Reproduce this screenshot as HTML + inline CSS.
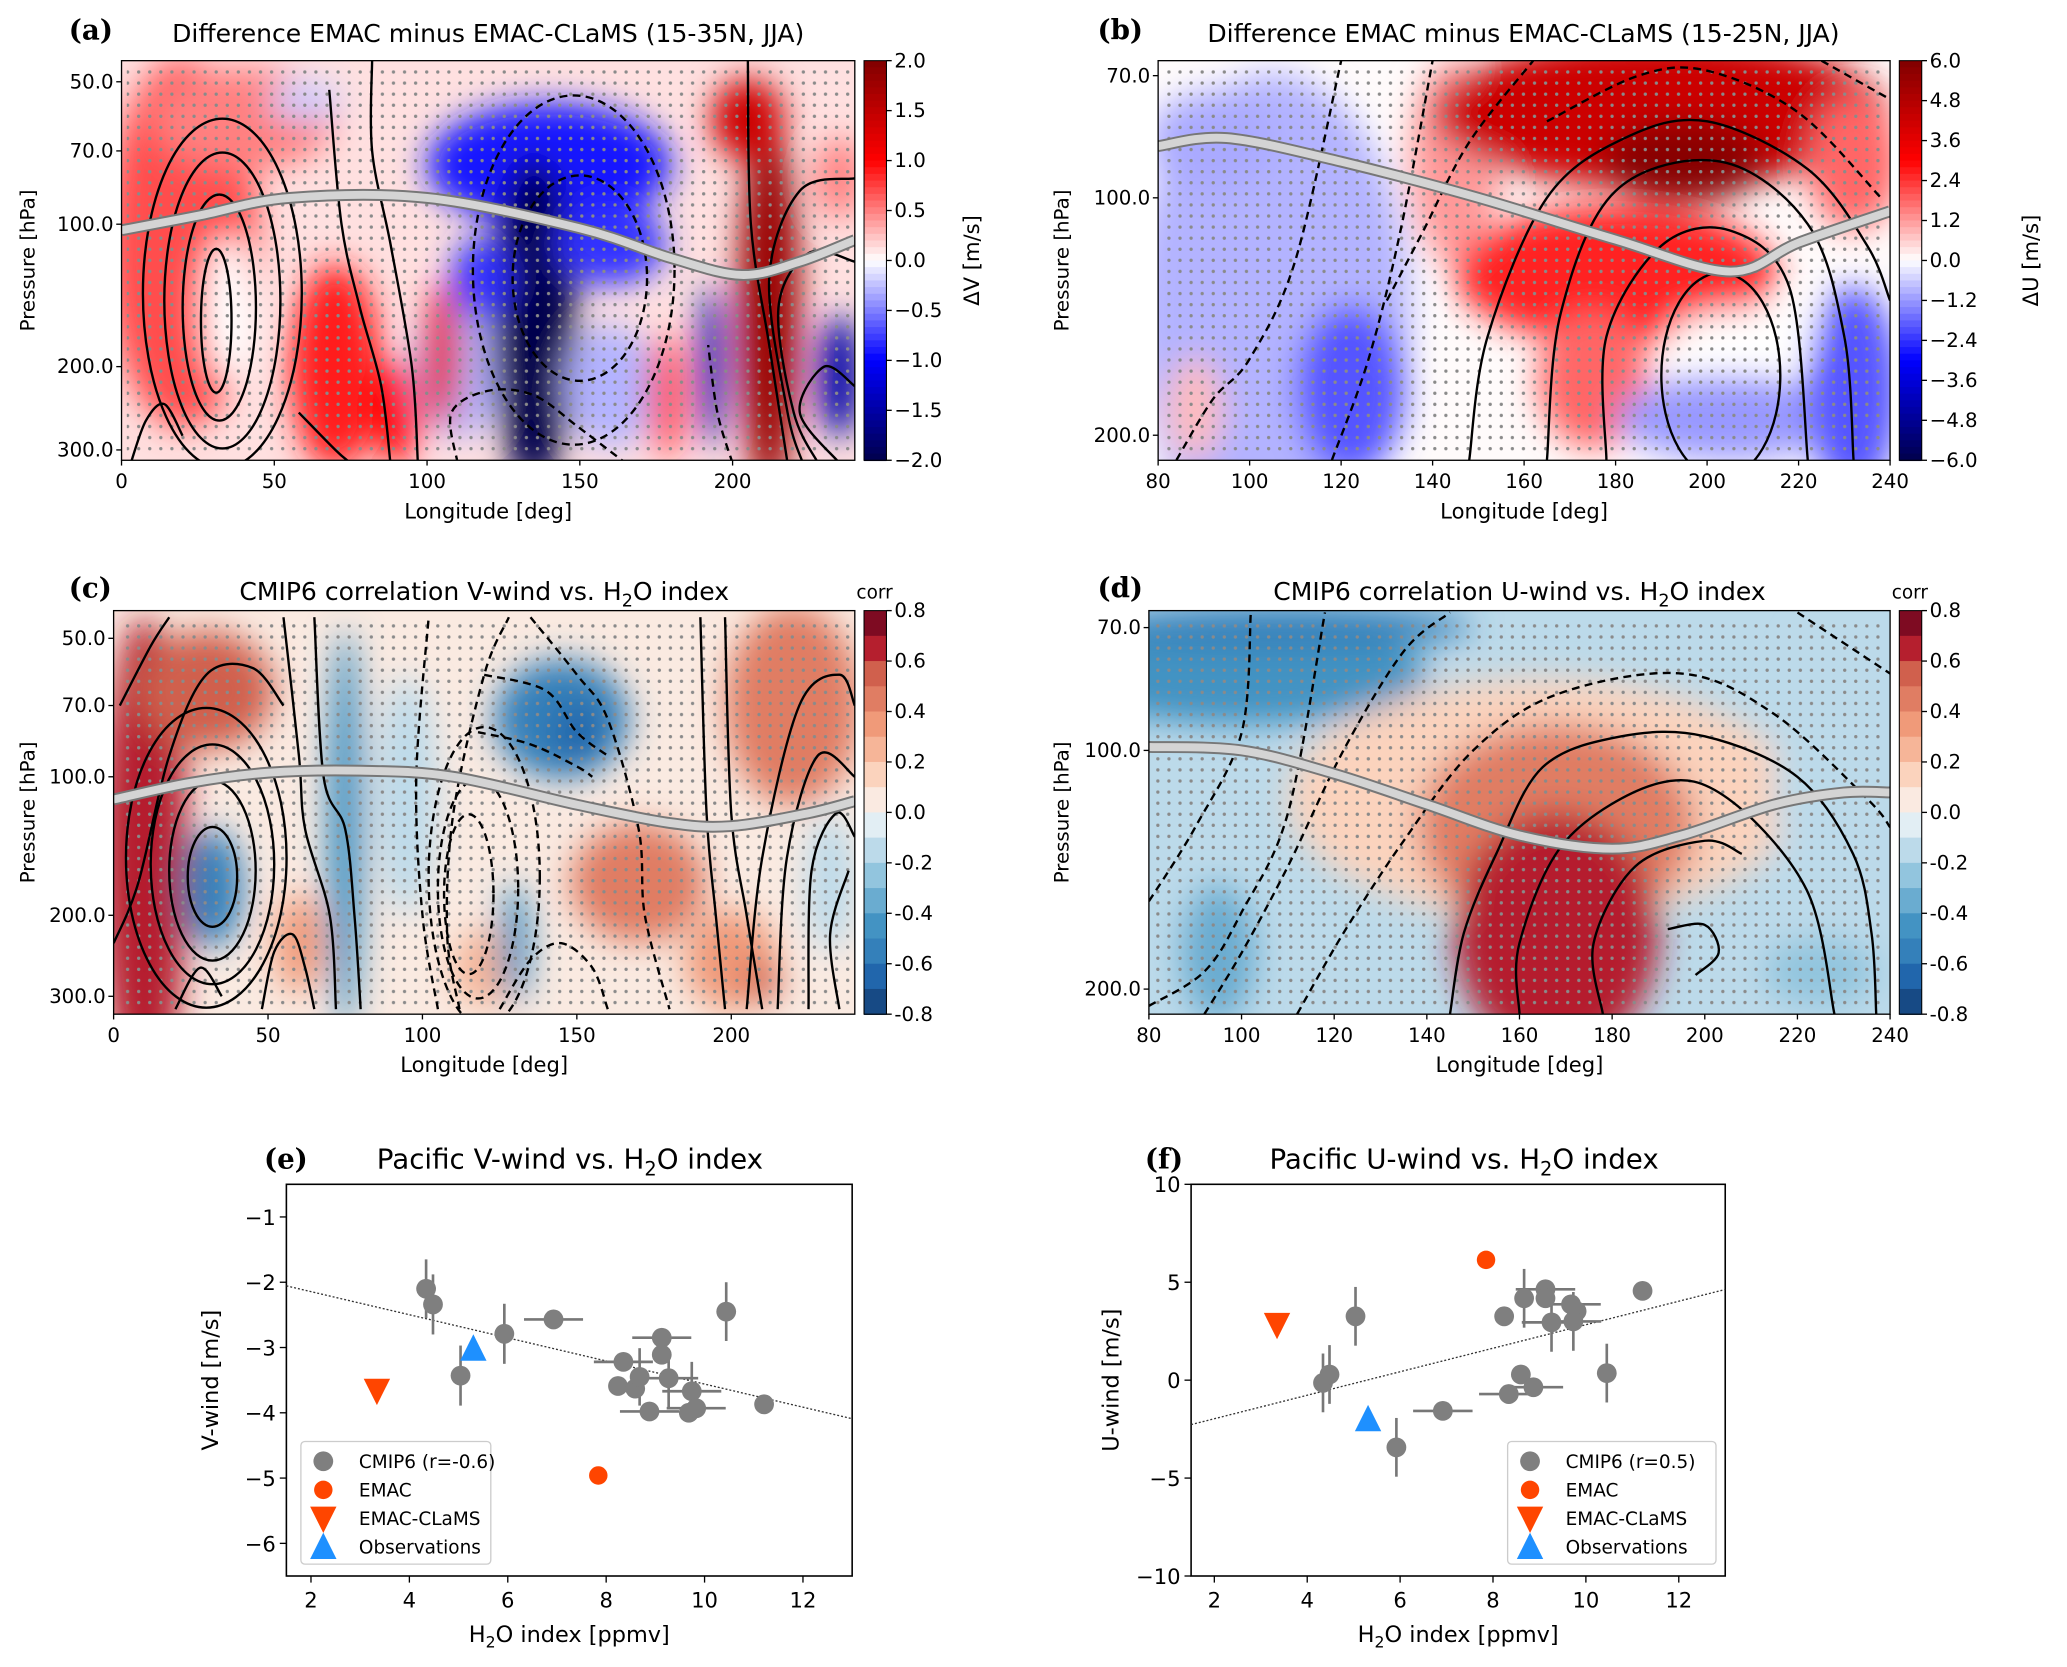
<!DOCTYPE html>
<html><head><meta charset="utf-8"><style>
html,body{margin:0;padding:0;background:#fff}
svg{display:block}
text{font-family:"DejaVu Sans","Liberation Sans",sans-serif;fill:#000}
.lab{font-family:"DejaVu Serif","Liberation Serif",serif;font-weight:bold}
</style></head><body>
<svg id="fig" xmlns="http://www.w3.org/2000/svg" width="2067" height="1667" viewBox="0 0 1567 1264">
<defs>
<pattern id="stip" x="0" y="0" width="8.4" height="8.4" patternUnits="userSpaceOnUse"><circle cx="4.2" cy="4.2" r="1.25" fill="#8a8a8a"/></pattern>
<filter id="blur" x="-50%" y="-50%" width="200%" height="200%"><feGaussianBlur stdDeviation="12"/></filter>
</defs>
</svg>
<script>
// ---------- scatter data (panel e / f) ----------
const cmipH2O  = [4.34,4.48,5.04,5.93,6.93,8.35,8.24,8.59,8.68,8.88,9.13,9.13,9.27,9.74,9.68,9.83,10.44,11.21];
const cmipV    = [-2.10,-2.34,-3.43,-2.79,-2.57,-3.22,-3.59,-3.63,-3.45,-3.98,-2.85,-3.11,-3.47,-3.67,-4.00,-3.93,-2.45,-3.87];
const cmipVerrY= [0.45,0.46,0.46,0.46,0,0,0,0,0.44,0,0,0,0.45,0.45,0,0,0.45,0];
const cmipVerrX= [0,0,0,0,0.6,0.6,0,0,0,0.6,0.6,0,0.6,0.6,0,0.6,0,0];
const cmipU    = [-0.14,0.29,3.26,-3.43,-1.57,3.26,-0.71,0.29,4.18,-0.36,4.64,4.18,2.95,3.87,3.52,3.0,0.36,4.56];
const cmipH2Of = [4.34,4.48,5.04,5.92,6.92,8.24,8.34,8.60,8.67,8.87,9.13,9.13,9.26,9.68,9.80,9.73,10.45,11.22];
const cmipUerrY= [1.5,1.5,1.5,1.5,0,0,0,0,1.5,0,0,0,1.5,0,0,1.5,1.5,0];
const cmipUerrX= [0,0,0,0,0.64,0,0.64,0,0,0.64,0.64,0,0.64,0.64,0,0.6,0,0];
const emacE = [7.84,-4.96], clamsE = [3.34,-3.66], obsE = [5.30,-3.02];
const emacF = [7.85,6.14], clamsF = [3.35,2.83], obsF = [5.31,-2.0];
const regE = [-1.79,-0.177], regF = [-3.17,0.60];
const ticksX = [2,4,6,8,10,12];
const ticksVE = [-1,-2,-3,-4,-5,-6];
const ticksUF = [10,5,0,-5,-10];
// ---------- field blobs [lon, p, dLon, dLnP, value] ----------
const blobsA=[[20,110,25,0.9,0.7],[40,60,30,0.25,0.5],[35,150,8,0.35,0.0],[70,200,15,0.5,0.9],[90,250,8,0.25,1.0],[60,55,12,0.1,-0.2],[110,200,15,0.35,-0.3],[105,190,6,0.35,1.2],[140,75,40,0.3,-0.9],[135,160,14,0.8,-2.0],[137,150,8,0.5,-2.0],[118,130,10,0.2,-0.8],[160,110,18,0.2,-0.8],[160,220,15,0.3,-0.3],[178,230,5,0.3,0.9],[193,200,4,0.4,-1.5],[212,150,10,0.9,1.8],[205,60,12,0.2,1.4],[235,210,7,0.3,-1.5],[235,80,8,0.2,0.5]];
const blobsB=[[105,140,30,0.7,-0.9],[122,175,12,0.25,-2.0],[92,85,14,0.15,-1.0],[88,185,6,0.15,0.8],[145,90,10,0.3,1.2],[190,78,50,0.22,4.2],[195,90,18,0.12,5.8],[180,125,35,0.2,2.6],[175,170,12,0.2,1.8],[210,150,18,0.08,0.0],[205,190,25,0.12,-1.2],[232,175,10,0.3,-2.0],[232,90,10,0.2,1.8]];
const blobsC=[[10,150,14,1.2,0.65],[30,65,22,0.3,0.5],[32,175,10,0.3,-0.6],[60,230,8,0.25,0.3],[75,130,6,1.0,-0.5],[95,110,10,0.6,-0.15],[145,75,22,0.3,-0.6],[150,80,8,0.15,-0.7],[120,260,10,0.2,0.2],[130,230,5,0.3,-0.5],[170,170,22,0.3,0.4],[200,250,15,0.25,0.35],[210,280,6,0.1,0.6],[220,70,22,0.5,0.4],[232,170,8,0.35,-0.2]];
const blobsD=[[100,80,40,0.15,-0.5],[110,70,40,0.06,-0.6],[95,180,8,0.2,-0.35],[165,115,55,0.35,0.15],[168,125,30,0.3,0.4],[168,170,22,0.35,0.68],[230,110,15,0.5,-0.15],[225,190,12,0.1,-0.3]];
// ---------- contours [pts, dashed] and ellipses [lon,p,dLon,dLnP,dashed] ----------
const contA=[[[[68,52],[72,100],[78,150],[85,220],[88,320]],0],[[[82,45],[82,70],[88,110],[95,200],[97,320]],0],[[[58,250],[70,300],[75,320]],0],[[[110,320],[108,250],[120,225],[135,230],[150,270],[165,320]],1],[[[200,320],[195,250],[192,180]],1],[[[205,45],[206,100],[212,180],[218,320]],0],[[[240,120],[225,115],[215,150],[220,250],[228,320]],0],[[[240,80],[222,85],[212,130],[218,250],[223,320]],0],[[[240,220],[230,200],[222,250],[235,320]],0],[[[3,320],[8,260],[14,240],[20,280]],0]];
const ellA=[[33,140,26,0.85,0],[33,145,19,0.72,0],[32,150,12,0.55,0],[31,160,5,0.35,0],[148,125,33,0.85,1],[150,130,22,0.5,1]];
const contB=[[[[84,215],[92,180],[100,160],[110,120],[120,67]],1],[[[118,215],[126,160],[133,110],[140,67]],1],[[[130,135],[138,110],[148,85],[162,67]],1],[[[165,80],[185,70],[200,69],[220,78],[238,100]],1],[[[225,67],[240,75]],1],[[[148,215],[152,150],[165,100],[182,84],[200,80],[222,92],[235,115],[240,135]],0],[[[165,215],[168,140],[180,98],[203,90],[222,108],[230,150],[232,215]],0],[[[178,215],[178,150],[190,115],[205,110],[218,130],[222,215]],0]];
const ellB=[[203,168,13,0.3,0]];
const contC=[[[[65,45],[68,100],[75,130],[78,200],[80,320]],0],[[[55,45],[60,90],[62,130],[70,200],[72,320]],0],[[[48,320],[52,240],[58,220],[62,260],[65,320]],0],[[[20,320],[28,260],[35,300]],0],[[[2,70],[12,52],[18,45]],0],[[[0,230],[8,170],[18,90],[30,60],[45,58],[55,70]],0],[[[105,320],[100,200],[98,100],[102,45]],1],[[[112,320],[108,220],[110,120],[120,60],[128,45]],1],[[[135,45],[150,60],[160,75],[170,130],[172,200],[180,320]],1],[[[120,60],[140,65],[150,80],[160,90]],1],[[[118,80],[135,85],[150,95],[155,100]],1],[[[125,320],[135,250],[145,230],[155,260],[160,320]],1],[[[190,45],[192,120],[195,200],[198,320]],0],[[[198,45],[200,120],[205,200],[210,320]],0],[[[205,320],[210,150],[222,70],[235,60],[240,70]],0],[[[215,320],[218,150],[228,90],[240,100]],0],[[[225,320],[226,160],[234,120],[240,135]],0],[[[235,320],[232,220],[238,160]],0]];
const ellC=[[32,165,8,0.25,0],[32,160,14,0.45,0],[32,155,20,0.6,0],[30,150,26,0.75,0],[115,180,8,0.4,1],[118,175,13,0.55,1],[120,165,18,0.75,1]];
const contD=[[[[80,155],[90,125],[100,95],[102,67]],1],[[[80,210],[92,190],[100,160],[110,120],[118,67]],1],[[[92,215],[100,180],[110,140],[122,100],[135,75],[145,67]],1],[[[112,215],[122,170],[135,130],[150,100],[168,85],[195,80],[215,90],[235,115],[240,125]],1],[[[220,67],[240,80]],1],[[[145,215],[148,170],[155,135],[165,105],[182,96],[200,96],[220,108],[232,135],[236,170],[237,215]],0],[[[160,215],[160,175],[170,130],[190,110],[205,115],[222,150],[228,215]],0],[[[178,215],[176,175],[185,140],[200,130],[208,135]],0],[[[192,168],[200,166],[203,180],[198,192]],0]];
const ellD=[];
// tropopause [lon,p]
const tropA=[[0,103],[25,96],[55,88],[100,88],[150,102],[180,118],[203,128],[222,120],[240,108]];
const tropB=[[80,86],[95,84],[120,90],[150,100],[180,113],[205,124],[220,114],[240,104]];
const tropC=[[0,112],[25,103],[50,98],[80,97],[110,100],[150,115],[180,126],[200,128],[225,120],[240,113]];
const tropD=[[80,99],[100,100],[120,107],[140,117],[160,128],[180,133],[195,128],[215,117],[230,113],[240,113]];

const NS='http://www.w3.org/2000/svg';
const svg=document.getElementById('fig');
function mk(tag,attrs,parent){const e=document.createElementNS(NS,tag);for(const k in attrs)e.setAttribute(k,attrs[k]);(parent||svg).appendChild(e);return e;}
function hex2rgb(h){return [parseInt(h.substr(1,2),16),parseInt(h.substr(3,2),16),parseInt(h.substr(5,2),16)];}
function interp(stops,v){if(v<=stops[0][0])return stops[0][1];if(v>=stops[stops.length-1][0])return stops[stops.length-1][1];
 for(let i=0;i<stops.length-1;i++){const a=stops[i],b=stops[i+1];if(v>=a[0]&&v<=b[0]){const t=(v-a[0])/(b[0]-a[0]);const ca=hex2rgb(a[1]),cb=hex2rgb(b[1]);return 'rgb('+ca.map((c,j)=>Math.round(c+(cb[j]-c)*t)).join(',')+')';}}}
const SEIS=[[-1,'#00004c'],[-0.5,'#0000ff'],[0,'#ffffff'],[0.5,'#ff0000'],[1,'#800000']];
const RDBU=['#174a85','#2166ac','#3480ba','#4393c3','#6aacd0','#92c5de','#bcdaea','#e2eef4','#faeae1','#fbd3bd','#f6b598','#f09a79','#e07d63','#d0604d','#b51f2e','#7e0b22'];
function rdbu(v){let i=Math.floor((v+0.8)/0.1);i=Math.max(0,Math.min(15,i));return RDBU[i];}
function sub(t,parent,x,y,size,anchor){
 const e=mk('text',{x:x,y:y,'font-size':size,'text-anchor':anchor||'middle'},parent);
 const parts=t.split('H2O');
 e.appendChild(document.createTextNode(parts[0]+'H'));
 const s=mk('tspan',{'font-size':size*0.7,dy:size*0.25},e);s.textContent='2';
 const r=mk('tspan',{dy:-size*0.25},e);r.textContent='O'+(parts[1]||'');
 return e;}
function smooth(pts){let d='M'+pts[0][0].toFixed(1)+','+pts[0][1].toFixed(1);
 for(let i=0;i<pts.length-1;i++){const p0=pts[i-1]||pts[i],p1=pts[i],p2=pts[i+1],p3=pts[i+2]||p2;
 d+=' C'+(p1[0]+(p2[0]-p0[0])/6).toFixed(1)+','+(p1[1]+(p2[1]-p0[1])/6).toFixed(1)+' '+(p2[0]-(p3[0]-p1[0])/6).toFixed(1)+','+(p2[1]-(p3[1]-p1[1])/6).toFixed(1)+' '+p2[0].toFixed(1)+','+p2[1].toFixed(1);}
 return d;}

const panels=[
 {id:'a',x0:92,x1:648,y0:46,y1:349,lon0:0,lon1:240,yRef:170,k:155.8,blobs:blobsA,base:0.12,cont:contA,ell:ellA,trop:tropA,yt:[50,70,100,200,300],xt:[0,50,100,150,200],cmap:'seis',vmax:2,
  title:'Difference EMAC minus EMAC-CLaMS (15-35N, JJA)',tx:370,ty:32,lx:52,ly:22,cbx:655,cbt:[2.0,1.5,1.0,0.5,0.0,-0.5,-1.0,-1.5,-2.0],cbl:'ΔV [m/s]',cblx:742,ylx:22},
 {id:'b',x0:878,x1:1433,y0:46,y1:349,lon0:80,lon1:240,yRef:150,k:259.7,blobs:blobsB,base:0.05,cont:contB,ell:ellB,trop:tropB,yt:[70,100,200],xt:[80,100,120,140,160,180,200,220,240],cmap:'seis',vmax:6,
  title:'Difference EMAC minus EMAC-CLaMS (15-25N, JJA)',tx:1155,ty:32,lx:832,ly:22,cbx:1440,cbt:[6.0,4.8,3.6,2.4,1.2,0.0,-1.2,-2.4,-3.6,-4.8,-6.0],cbl:'ΔU [m/s]',cblx:1545,ylx:806},
 {id:'c',x0:86,x1:648,y0:463,y1:769,lon0:0,lon1:240,yRef:589,k:151.5,blobs:blobsC,base:0.02,cont:contC,ell:ellC,trop:tropC,yt:[50,70,100,200,300],xt:[0,50,100,150,200],cmap:'rdbu',vmax:0.8,
  title:'CMIP6 correlation V-wind vs. H2O index',tx:367,ty:455,lx:52,ly:445,cbx:655,cbt:[0.8,0.6,0.4,0.2,0.0,-0.2,-0.4,-0.6,-0.8],cbl:'corr',ylx:22},
 {id:'d',x0:871,x1:1433,y0:463,y1:769,lon0:80,lon1:240,yRef:569,k:261.1,blobs:blobsD,base:-0.12,cont:contD,ell:ellD,trop:tropD,yt:[70,100,200],xt:[80,100,120,140,160,180,200,220,240],cmap:'rdbu',vmax:0.8,
  title:'CMIP6 correlation U-wind vs. H2O index',tx:1152,ty:455,lx:832,ly:445,cbx:1440,cbt:[0.8,0.6,0.4,0.2,0.0,-0.2,-0.4,-0.6,-0.8],cbl:'corr',ylx:806}
];

panels.forEach(P=>{
 const X=lon=>P.x0+(lon-P.lon0)/(P.lon1-P.lon0)*(P.x1-P.x0);
 const Y=p=>P.yRef+P.k*Math.log(p/100);
 const col=v=>P.cmap==='seis'?interp(SEIS,v/P.vmax):rdbu(v);
 const g=mk('g',{});
 
 
 const cp=mk('clipPath',{id:'clip'+P.id},g);
 mk('rect',{x:P.x0,y:P.y0,width:P.x1-P.x0,height:P.y1-P.y0},cp);
 const field=mk('g',{'clip-path':'url(#clip'+P.id+')'},g);
 
 
 const base=mk('rect',{x:P.x0,y:P.y0,width:P.x1-P.x0,height:P.y1-P.y0,fill:col(P.base)},field);
 
 
 const bg=mk('g',{filter:'url(#blur)'},field);
 P.blobs.forEach(b=>{
  const pxw=(P.x1-P.x0)/(P.lon1-P.lon0);
  const e=mk('ellipse',{cx:X(b[0]),cy:Y(b[1]),rx:b[2]*pxw,ry:b[3]*P.k,fill:col(b[4])},bg);
  
  
 });
 const st=mk('rect',{x:P.x0+4,y:P.y0+6,width:P.x1-P.x0-8,height:P.y1-P.y0-10,fill:'url(#stip)'},field);
 
 
 P.cont.forEach(c=>{
  const pa=mk('path',{d:smooth(c[0].map(q=>[X(q[0]),Y(q[1])])),fill:'none',stroke:'#000','stroke-width':1.8,'stroke-dasharray':c[1]?'6,4':'none'},field);
  
  
 });
 P.ell.forEach(c=>{
  const pxw=(P.x1-P.x0)/(P.lon1-P.lon0);
  const e=mk('ellipse',{cx:X(c[0]),cy:Y(c[1]),rx:c[2]*pxw,ry:c[3]*P.k,fill:'none',stroke:'#000','stroke-width':1.8,'stroke-dasharray':c[4]?'6,4':'none'},field);
  
  
 });
 const td=smooth(P.trop.map(q=>[X(q[0]),Y(q[1])]));
 const t1=mk('path',{d:td,fill:'none',stroke:'#777','stroke-width':9},field);
 
 
 const t2=mk('path',{d:td,fill:'none',stroke:'#d4d4d4','stroke-width':6},field);
 
 
 const fr=mk('rect',{x:P.x0,y:P.y0,width:P.x1-P.x0,height:P.y1-P.y0,fill:'none',stroke:'#000','stroke-width':1},g);
 
 
 P.yt.forEach(p=>{
  mk('line',{x1:P.x0-4,x2:P.x0,y1:Y(p),y2:Y(p),stroke:'#000'},g);
  const t=mk('text',{x:P.x0-6,y:Y(p)+5,'font-size':15,'text-anchor':'end'},g);
  t.textContent=p.toFixed(1);
  
  
 });
 P.xt.forEach(l=>{
  mk('line',{x1:X(l),x2:X(l),y1:P.y1,y2:P.y1+4,stroke:'#000'},g);
  const t=mk('text',{x:X(l),y:P.y1+21,'font-size':15,'text-anchor':'middle'},g);
  t.textContent=l;
  
  
 });
 const xl=mk('text',{x:(P.x0+P.x1)/2,y:P.y1+44,'font-size':16,'text-anchor':'middle'},g);
 xl.textContent='Longitude [deg]';
 
 
 const yl=mk('text',{x:0,y:0,'font-size':15,'text-anchor':'middle',transform:'translate('+(P.ylx+4)+','+((P.y0+P.y1)/2)+') rotate(-90)'},g);
 yl.textContent='Pressure [hPa]';
 
 
 const lab=mk('text',{x:P.lx,y:P.ly+8,'font-size':21,'class':'lab'},g);
 lab.textContent='('+P.id+')';
 
 
 const ti=P.title.indexOf('H2O')>=0?sub(P.title,g,P.tx,P.ty,19):mk('text',{x:P.tx,y:P.ty,'font-size':19,'text-anchor':'middle'},g);
 if(P.title.indexOf('H2O')<0)ti.textContent=P.title;
 
 
 const cb=mk('g',{},g);
 
 
 const H=P.y1-P.y0,N=P.cmap==='seis'?60:16;
 for(let i=0;i<N;i++){
  const v=P.vmax-(i+0.5)*(2*P.vmax/N);
  mk('rect',{x:P.cbx,y:P.y0+i*H/N,width:17,height:H/N+0.6,fill:col(v)},cb);
 }
 mk('rect',{x:P.cbx,y:P.y0,width:17,height:H,fill:'none',stroke:'#000','stroke-width':0.8},cb);
 P.cbt.forEach(v=>{
  const y=P.y0+(P.vmax-v)/(2*P.vmax)*H;
  mk('line',{x1:P.cbx+17,x2:P.cbx+21,y1:y,y2:y,stroke:'#000'},cb);
  const t=mk('text',{x:P.cbx+23,y:y+5,'font-size':15},cb);
  t.textContent=(v<0?'\u2212':'')+Math.abs(v).toFixed(1);
  if(P.cmap==='rdbu')t.textContent=v.toFixed(1);
  
  
 });
 let cl;
 if(P.cbl==='corr'){cl=mk('text',{x:P.cbx+8,y:P.y0-9,'font-size':14,'text-anchor':'middle'},cb);}
 else{cl=mk('text',{x:0,y:0,'font-size':16,'text-anchor':'middle',transform:'translate('+P.cblx+','+((P.y0+P.y1)/2)+') rotate(-90)'},cb);}
 cl.textContent=P.cbl;
 
 
});

function scatter(o){
 const X=v=>o.x0+(v-1.5)/(13-1.5)*(o.x1-o.x0);
 const Y=v=>o.y0+(o.ymax-v)/(o.ymax-o.ymin)*(o.y1-o.y0);
 const g=mk('g',{});
 
 
 const fr=mk('rect',{x:o.x0,y:o.y0,width:o.x1-o.x0,height:o.y1-o.y0,fill:'#fff',stroke:'#000','stroke-width':1.2},g);
 
 
 const reg=mk('line',{x1:X(1.5),y1:Y(o.reg[0]+o.reg[1]*1.5),x2:X(13),y2:Y(o.reg[0]+o.reg[1]*13),stroke:'#333','stroke-width':1,'stroke-dasharray':'1.5,1.5'},g);
 
 
 o.xs.forEach((xv,i)=>{
  const yv=o.ys[i];
  if(o.ey[i]>0){const l=mk('line',{x1:X(xv),x2:X(xv),y1:Y(yv-o.ey[i]),y2:Y(yv+o.ey[i]),stroke:'#777','stroke-width':2},g);
   
   }
  if(o.ex[i]>0){const l=mk('line',{x1:X(xv-o.ex[i]),x2:X(xv+o.ex[i]),y1:Y(yv),y2:Y(yv),stroke:'#777','stroke-width':2},g);
   
   }
 });
 o.xs.forEach((xv,i)=>{
  const c=mk('circle',{cx:X(xv),cy:Y(o.ys[i]),r:7.5,fill:'#7f7f7f'},g);
  
  
 });
 const em=mk('circle',{cx:X(o.emac[0]),cy:Y(o.emac[1]),r:7,fill:'#ff4500'},g);
 
 
 const cx=X(o.clams[0]),cy=Y(o.clams[1]);
 const cl=mk('polygon',{points:(cx-10)+','+(cy-9)+' '+(cx+10)+','+(cy-9)+' '+cx+','+(cy+11),fill:'#ff4500'},g);
 
 
 const ox=X(o.obs[0]),oy=Y(o.obs[1]);
 const ob=mk('polygon',{points:(ox-10)+','+(oy+9)+' '+(ox+10)+','+(oy+9)+' '+ox+','+(oy-11),fill:'#1e90ff'},g);
 
 
 ticksX.forEach(v=>{
  mk('line',{x1:X(v),x2:X(v),y1:o.y1,y2:o.y1+5,stroke:'#000'},g);
  const t=mk('text',{x:X(v),y:o.y1+24,'font-size':16,'text-anchor':'middle'},g);
  t.textContent=v;
  
  
 });
 o.yt.forEach(v=>{
  mk('line',{x1:o.x0-5,x2:o.x0,y1:Y(v),y2:Y(v),stroke:'#000'},g);
  const t=mk('text',{x:o.x0-8,y:Y(v)+6,'font-size':16,'text-anchor':'end'},g);
  t.textContent=(v<0?'\u2212':'')+Math.abs(v);
  
  
 });
 const xl=sub('H2O index [ppmv]',g,(o.x0+o.x1)/2,o.y1+50,17);
 
 
 const yl=mk('text',{x:0,y:0,'font-size':17,'text-anchor':'middle',transform:'translate('+o.ylx+','+((o.y0+o.y1)/2)+') rotate(-90)'},g);
 yl.textContent=o.ylab;
 
 
 const ti=sub(o.title,g,o.tx,886,21);
 
 
 const lb=mk('text',{x:o.lx,y:886,'font-size':21,'class':'lab'},g);
 lb.textContent='('+o.id+')';
 
 
 const lg=mk('g',{},g);
 
 
 mk('rect',{x:o.lgx,y:1093,width:o.lgw,height:93,rx:3,fill:'#fff',stroke:'#ccc'},lg);
 const names=[o.cmipName,'EMAC','EMAC-CLaMS','Observations'];
 names.forEach((n,i)=>{
  const y=1108+i*21.7,mx=o.lgx+17;
  let m;
  if(i===0)m=mk('circle',{cx:mx,cy:y,r:7.5,fill:'#7f7f7f'},lg);
  else if(i===1)m=mk('circle',{cx:mx,cy:y,r:7,fill:'#ff4500'},lg);
  else if(i===2)m=mk('polygon',{points:(mx-10)+','+(y-9)+' '+(mx+10)+','+(y-9)+' '+mx+','+(y+11),fill:'#ff4500'},lg);
  else m=mk('polygon',{points:(mx-10)+','+(y+9)+' '+(mx+10)+','+(y+9)+' '+mx+','+(y-11),fill:'#1e90ff'},lg);
  
  
  const t=mk('text',{x:o.lgx+44,y:y+5,'font-size':14},lg);
  t.textContent=n;
  
  
 });
}
scatter({id:'e',x0:217,x1:646,y0:898,y1:1195,ymin:-6.5,ymax:-0.5,xs:cmipH2O,ys:cmipV,ey:cmipVerrY,ex:cmipVerrX,emac:emacE,clams:clamsE,obs:obsE,reg:regE,yt:ticksVE,
 ylab:'V-wind [m/s]',ylx:165,title:'Pacific V-wind vs. H2O index',tx:432,lx:200,lgx:228,lgw:144,cmipName:'CMIP6 (r=-0.6)'});
scatter({id:'f',x0:903,x1:1308,y0:898,y1:1195,ymin:-10,ymax:10,xs:cmipH2Of,ys:cmipU,ey:cmipUerrY,ex:cmipUerrX,emac:emacF,clams:clamsF,obs:obsF,reg:regF,yt:ticksUF,
 ylab:'U-wind [m/s]',ylx:848,title:'Pacific U-wind vs. H2O index',tx:1110,lx:868,lgx:1143,lgw:158,cmipName:'CMIP6 (r=0.5)'});
</script>
</body></html>
